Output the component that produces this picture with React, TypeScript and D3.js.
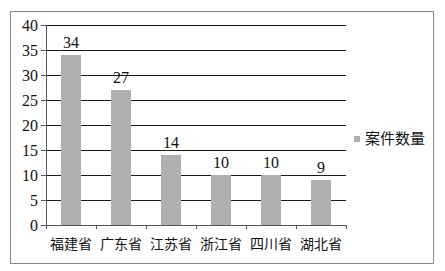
import React from "react";
import * as d3 from "d3";

const categories = ["福建省", "广东省", "江苏省", "浙江省", "四川省", "湖北省"];
const values = [34, 27, 14, 10, 10, 9];
const yTicks = [0, 5, 10, 15, 20, 25, 30, 35, 40];
const seriesName = "案件数量";

const W = 445;
const H = 271;
const plot = { left: 46, right: 346, top: 25, bottom: 225 };
const barColor = "#b1b0ae";
const serif = "'Liberation Serif', 'Times New Roman', serif";
const cjk = "'Noto Sans CJK SC', sans-serif";

export default function App() {
  const xb = d3.scaleBand<string>().domain(categories).range([plot.left, plot.right]);
  const y = d3.scaleLinear().domain([0, 40]).range([plot.bottom, plot.top]);
  const bw = 20;

  return (
    <svg width={W} height={H} style={{ position: "fixed", left: 0, top: 0, background: "#fff" }}>
      <rect x={10.5} y={11.5} width={423} height={252} fill="#fff" stroke="#8a8a8a" strokeWidth={1} />
      {yTicks.map((t) => (
        <g key={t}>
          {t > 0 && (
            <line x1={plot.left} x2={plot.right} y1={Math.round(y(t)) + 0.5} y2={Math.round(y(t)) + 0.5} stroke="#1a1a1a" strokeWidth={1} />
          )}
          <line x1={plot.left - 5} x2={plot.left} y1={Math.round(y(t)) + 0.5} y2={Math.round(y(t)) + 0.5} stroke="#555" strokeWidth={1} />
          <text x={38} y={y(t)} dy="0.35em" textAnchor="end" fontFamily={serif} fontSize={16} fill="#111">
            {t}
          </text>
        </g>
      ))}
      {categories.map((c, i) => {
        const cx = (xb(c) as number) + xb.bandwidth() / 2;
        return (
          <g key={c}>
            <rect x={cx - bw / 2} y={y(values[i])} width={bw} height={plot.bottom - y(values[i])} fill={barColor} />
            <text x={cx} y={y(values[i]) - 7} textAnchor="middle" fontFamily={serif} fontSize={16} fill="#111">
              {values[i]}
            </text>
            <text x={cx} y={244} dy="0.35em" textAnchor="middle" fontFamily={cjk} fontSize={14} fill="#111">
              {c}
            </text>
          </g>
        );
      })}
      {categories.concat([""]).map((c, i) => {
        const tx = plot.left + i * xb.step();
        return <line key={"t" + i} x1={Math.round(tx) + 0.5} x2={Math.round(tx) + 0.5} y1={plot.bottom} y2={plot.bottom + 4} stroke="#555" />;
      })}
      <line x1={plot.left} x2={plot.right} y1={plot.bottom + 0.5} y2={plot.bottom + 0.5} stroke="#555" />
      <line x1={plot.left + 0.5} x2={plot.left + 0.5} y1={plot.top} y2={plot.bottom} stroke="#555" />
      <rect x={354} y={136} width={6} height={6} fill={barColor} />
      <text x={365} y={139} dy="0.35em" fontFamily={cjk} fontSize={15} fill="#111">
        {seriesName}
      </text>
    </svg>
  );
}
